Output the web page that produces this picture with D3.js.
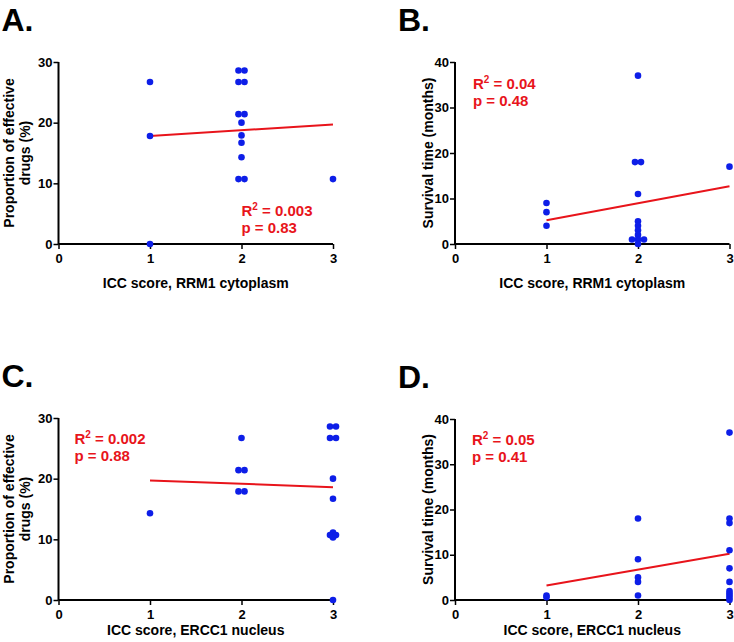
<!DOCTYPE html>
<html>
  <head>
    <meta charset="utf-8">
    <title>ICC score scatter plots</title>
    <script src="https://cdnjs.cloudflare.com/ajax/libs/d3/7.8.5/d3.min.js"></script>
    <style>
      body { margin: 0; background: #fff; }
      svg text { font-family: "Liberation Sans", Arial, sans-serif; font-weight: bold; }
    </style>
  </head>
  <body>
    <div id="chart"></div>
    <script type="text/javascript">
      // panel data: ICC score (x) and measured value (y)
      var aX = [1, 1, 1, 2, 2, 2, 2, 2, 2, 2, 2, 2, 2, 2, 2, 3];
      var aY = [26.7, 17.8, 0, 28.6, 28.6, 26.7, 26.7, 21.4, 21.4, 20.0, 17.9, 16.7, 14.3, 10.7, 10.7, 10.7];
      var bX = [1, 1, 1, 2, 2, 2, 2, 2, 2, 2, 2, 2, 2, 2, 2, 3];
      var bY = [9, 7, 4, 37, 18, 18, 11, 5, 4, 3, 2, 1, 1, 1, 0, 17];
      var cX = [1, 2, 2, 2, 2, 2, 3, 3, 3, 3, 3, 3, 3, 3, 3, 3, 3];
      var cY = [14.3, 26.7, 21.4, 21.4, 17.9, 17.9, 28.6, 28.6, 26.7, 26.7, 20.0, 16.7, 11.1, 10.7, 10.7, 10.3, 0];
      var dX = [1, 1, 2, 2, 2, 2, 2, 3, 3, 3, 3, 3, 3, 3, 3, 3, 3, 3];
      var dY = [1, 0.6, 18, 9, 5, 4, 1, 37, 18, 17, 11, 7, 4, 2, 1.5, 1, 0.5, 0];

      // regression line end points
      var fitA = [[1, 17.8], [3, 19.7]];
      var fitB = [[1, 5.2], [3, 12.7]];
      var fitC = [[1, 19.7], [3, 18.6]];
      var fitD = [[1, 3.2], [3, 10.2]];

      var xTicks = [0, 1, 2, 3];
      var pctTicks = [0, 10, 20, 30];
      var monthTicks = [0, 10, 20, 30, 40];

      var statsA = ["0.003", "0.83"];
      var statsB = ["0.04", "0.48"];
      var statsC = ["0.002", "0.88"];
      var statsD = ["0.05", "0.41"];

      var w = 734, h = 642;
      var svg = d3.select("#chart").append("svg")
        .attr("width", w)
        .attr("height", h);

      var panels = [
        { letter: "A.", xs: aX, ys: aY, fit: fitA, stats: statsA, yTicks: pctTicks, yMax: 30,
          left: 58.5, top: 62, bottom: 244, titleGap: 44, xTitle: "ICC score, RRM1 cytoplasm",
          yTitle: ["Proportion of effective", "drugs (%)"], statPos: [183, 216] },
        { letter: "B.", xs: bX, ys: bY, fit: fitB, stats: statsB, yTicks: monthTicks, yMax: 40,
          left: 455, top: 62, bottom: 244, titleGap: 44, xTitle: "ICC score, RRM1 cytoplasm",
          yTitle: ["Survival time (months)"], statPos: [18, 89] },
        { letter: "C.", xs: cX, ys: cY, fit: fitC, stats: statsC, yTicks: pctTicks, yMax: 30,
          left: 58.5, top: 418, bottom: 600, titleGap: 35, xTitle: "ICC score, ERCC1 nucleus",
          yTitle: ["Proportion of effective", "drugs (%)"], statPos: [16, 444] },
        { letter: "D.", xs: dX, ys: dY, fit: fitD, stats: statsD, yTicks: monthTicks, yMax: 40,
          left: 455, top: 419, bottom: 600, titleGap: 35, xTitle: "ICC score, ERCC1 nucleus",
          yTitle: ["Survival time (months)"], statPos: [17, 445] }
      ];

      panels.forEach(function(p) {
        var x = d3.scaleLinear().domain([0, 3]).range([p.left, p.left + 274.5]);
        var y = d3.scaleLinear().domain([0, p.yMax]).range([p.bottom, p.top]);
        var g = svg.append("g");

        // panel letter
        svg.append("text")
          .attr("x", p.left - 57)
          .attr("y", p.top - 31)
          .style("font-size", "32px")
          .text(p.letter);

        // axes
        var xAxis = g.append("g")
          .attr("transform", "translate(0," + p.bottom + ")")
          .call(d3.axisBottom(x).tickValues(xTicks).tickFormat(d3.format("d")).tickSize(5).tickPadding(5));
        var yAxis = g.append("g")
          .attr("transform", "translate(" + p.left + ",0)")
          .call(d3.axisLeft(y).tickValues(p.yTicks).tickFormat(d3.format("d")).tickSize(5).tickPadding(1));
        [xAxis, yAxis].forEach(function(a) {
          a.select(".domain").attr("stroke", "#000").attr("stroke-width", 2);
          a.selectAll(".tick line").attr("stroke", "#000").attr("stroke-width", 1.5);
          a.selectAll(".tick text")
            .attr("fill", "#000")
            .style("font-size", "13px")
            .style("font-family", "'Liberation Sans', Arial, sans-serif")
            .style("font-weight", "bold");
        });
        xAxis.select(".domain").attr("d", "M" + x(0) + ",0H" + x(3));
        yAxis.select(".domain").attr("d", "M0," + y(0) + "V" + y(p.yMax));

        // axis titles
        g.append("text")
          .attr("x", x(1.5))
          .attr("y", p.bottom + p.titleGap)
          .attr("text-anchor", "middle")
          .style("font-size", "14px")
          .text(p.xTitle);

        var yc = (p.top + p.bottom) / 2;
        p.yTitle.forEach(function(line, i) {
          var tx = p.yTitle.length === 1 ? p.left - 22 : p.left - 45 + i * 16;
          g.append("text")
            .attr("transform", "translate(" + tx + "," + yc + ") rotate(-90)")
            .attr("text-anchor", "middle")
            .style("font-size", "14px")
            .text(line);
        });

        // regression line
        g.append("line")
          .attr("x1", x(p.fit[0][0]))
          .attr("y1", y(p.fit[0][1]))
          .attr("x2", x(p.fit[1][0]))
          .attr("y2", y(p.fit[1][1]))
          .attr("stroke", "#e8141b")
          .attr("stroke-width", 2);

        // dots: identical values at the same score are set side by side
        var pts = p.xs.map(function(v, i) { return { x: v, y: p.ys[i] }; });
        var groups = d3.group(pts, function(d) { return d.x + "_" + d.y; });
        groups.forEach(function(list) {
          list.forEach(function(d, k) {
            d.dx = (k - (list.length - 1) / 2) * 6;
          });
        });
        g.selectAll("circle")
          .data(pts)
          .enter()
          .append("circle")
          .attr("cx", function(d) { return x(d.x) + d.dx; })
          .attr("cy", function(d) { return y(d.y); })
          .attr("r", 3.3)
          .style("fill", "#0d1ee8");

        // statistics
        var st = g.append("text")
          .attr("x", p.left + p.statPos[0])
          .attr("y", p.statPos[1])
          .style("font-size", "15px")
          .attr("fill", "#e8141b");
        st.append("tspan").text("R");
        st.append("tspan").attr("dy", -6).style("font-size", "10px").text("2");
        st.append("tspan").attr("dy", 6).text(" = " + p.stats[0]);
        g.append("text")
          .attr("x", p.left + p.statPos[0])
          .attr("y", p.statPos[1] + 17)
          .style("font-size", "15px")
          .attr("fill", "#e8141b")
          .text("p = " + p.stats[1]);
      });
    </script>
  </body>
</html>
